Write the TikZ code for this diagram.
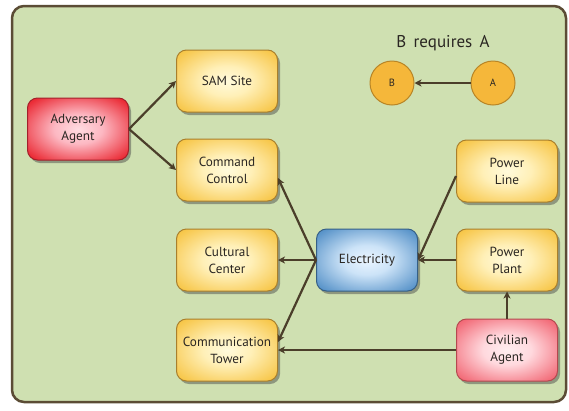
\documentclass[tikz,border=0pt]{standalone}
\usepackage{fontspec}
\setmainfont{PT Sans}
\usetikzlibrary{arrows.meta,shadows}

\definecolor{panel}{HTML}{CFE0B1}
\definecolor{frame}{HTML}{5B4C35}
\definecolor{wire}{HTML}{4B3E2A}
\definecolor{ink}{HTML}{2A2622}
\definecolor{ybord}{HTML}{A97F2C}
\definecolor{rbord}{HTML}{A3202A}
\definecolor{pbord}{HTML}{B4484F}
\definecolor{bbord}{HTML}{355F86}
\definecolor{dot}{HTML}{F5B73A}
\definecolor{dotbord}{HTML}{B88526}

% glowing fills: pale centre, saturated rim
\pgfdeclareradialshading{yglow}{\pgfpoint{0bp}{0bp}}{%
  rgb(0bp)=(1,0.98,0.86); rgb(12bp)=(1,0.94,0.72); rgb(32bp)=(0.97,0.78,0.29); rgb(100bp)=(0.95,0.72,0.22)}
\pgfdeclareradialshading{rglow}{\pgfpoint{0bp}{0bp}}{%
  rgb(0bp)=(1,0.86,0.88); rgb(12bp)=(0.99,0.72,0.76); rgb(32bp)=(0.92,0.17,0.21); rgb(100bp)=(0.89,0.12,0.16)}
\pgfdeclareradialshading{pglow}{\pgfpoint{0bp}{0bp}}{%
  rgb(0bp)=(1,0.93,0.94); rgb(12bp)=(1,0.85,0.87); rgb(32bp)=(0.95,0.42,0.47); rgb(100bp)=(0.93,0.35,0.40)}
\pgfdeclareradialshading{bglow}{\pgfpoint{0bp}{0bp}}{%
  rgb(0bp)=(0.92,0.96,1); rgb(12bp)=(0.80,0.89,0.97); rgb(32bp)=(0.35,0.58,0.79); rgb(100bp)=(0.29,0.52,0.73)}

\tikzset{
  card/.style={rounded corners=10pt, minimum width=101pt, minimum height=62pt,
    align=center, text=ink, font=\fontsize{13.2}{17}\selectfont, line width=1pt,
    shade, drop shadow={shadow xshift=2.5pt, shadow yshift=-3pt, opacity=.45, fill=black!75}},
  target/.style={card, draw=ybord, shading=yglow},
  foe/.style={card, draw=rbord, shading=rglow},
  civ/.style={card, draw=pbord, shading=pglow},
  hub/.style={card, draw=bbord, shading=bglow},
  disc/.style={circle, minimum size=44pt, fill=dot, draw=dotbord, line width=1pt,
    text=ink, font=\fontsize{10.5}{11}\selectfont},
  link/.style={draw=wire, line width=2.2pt, -{Stealth[length=7pt,width=7pt,inset=2pt]}},
}

\begin{document}
\begin{tikzpicture}[x=1pt,y=-1pt]
\useasboundingbox (0,0) rectangle (569,410);

% background panel
\draw[frame, line width=2.5pt, fill=panel, rounded corners=12pt] (12,6) rectangle (566,402);

% legend
\node[text=ink, font=\fontsize{17}{19}\selectfont] (title) at (443,43) {B\, requires\, A};
\node[disc] (b) at (392,83) {B};
\node[disc] (a) at (493,83) {A};

% nodes
\node[foe]    (adv)   at (78,129)  {Adversary\\Agent};
\node[target] (sam)   at (227,81)  {SAM Site};
\node[target] (cmd)   at (227,170) {Command\\Control};
\node[target] (cult)  at (227,260) {Cultural\\Center};
\node[target] (tower) at (227,350) {Communication\\Tower};
\node[hub]    (elec)  at (367,260) {Electricity};
\node[target] (pline) at (507,171) {Power\\Line};
\node[target] (plant) at (507,260) {Power\\Plant};
\node[civ]    (civ)   at (507,350) {Civilian\\Agent};

% dependencies
\draw[link] (a.west) -- (b.east);
\draw[link] (adv.east) -- (sam.west);
\draw[link] (adv.east) -- (cmd.west);
\draw[link] (elec.west) -- ([yshift=-8pt]cmd.east);
\draw[link] (elec.west) -- (cult.east);
\draw[link] (elec.west) -- ([yshift=8pt]tower.east);
\draw[link] (civ.west) -- (tower.east |- civ.west);
\draw[link] ([yshift=-5pt]pline.west) -- (elec.east);
\draw[link] (plant.west) -- (elec.east);
\draw[link] (civ.north) -- (plant.south);
\end{tikzpicture}
\end{document}
